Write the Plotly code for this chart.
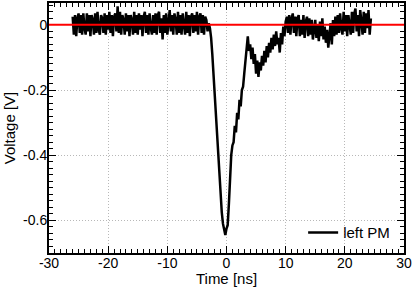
import plotly.graph_objects as go

# ---- data ----
t_start = -26.0   # ns, first sample
t_step = 0.2      # ns, sampling interval

baseline_pre_1 = [0.025, -0.030, 0.030, -0.035, 0.020, 0.035, -0.025, 0.030, -0.030, 0.035,
                  -0.010, -0.030, 0.035, -0.020, 0.030, -0.035, 0.030, 0.015, -0.030, 0.035,
                  -0.025, 0.040, -0.015]
baseline_pre_2 = [-0.030, 0.030, 0.020, -0.025, 0.035, -0.030, 0.030, -0.015, 0.040, -0.025,
                  0.030, -0.035, 0.025, 0.035, -0.020, 0.057, -0.025, 0.040, -0.030, 0.030,
                  0.015, -0.030, 0.035]
baseline_pre_3 = [-0.020, 0.030, -0.035, 0.030, 0.015, -0.030, 0.040, -0.025, 0.030, -0.030,
                  0.035, -0.015, 0.030, -0.035, 0.025, 0.040, -0.025, 0.030, -0.030, 0.035,
                  -0.010, -0.030, 0.030]
baseline_pre_4 = [-0.025, 0.035, -0.030, 0.030, 0.040, -0.025, 0.020, -0.045, 0.030, -0.025,
                  0.035, -0.030, 0.025, 0.045, -0.020, 0.030, -0.030, 0.035, 0.015, -0.030,
                  0.040, -0.025, 0.030]
baseline_pre_5 = [-0.030, 0.035, -0.010, -0.030, 0.040, -0.025, 0.030, -0.035, 0.025, 0.035,
                  -0.025, 0.030, -0.020, 0.040, -0.030, 0.025, 0.035, -0.025, 0.030, -0.030,
                  0.025, 0.015, -0.020]

pulse = [0.005, -0.010, -0.040, -0.090, -0.150, -0.210, -0.280, -0.350, -0.420, -0.470,
         -0.520, -0.575, -0.610, -0.630, -0.645, -0.625, -0.615, -0.550, -0.460, -0.400,
         -0.370, -0.360, -0.310, -0.330, -0.270, -0.290, -0.230, -0.250, -0.200, -0.190,
         -0.150, -0.110, -0.080, -0.035, -0.080, -0.060, -0.105, -0.070, -0.120, -0.090,
         -0.150, -0.110, -0.160, -0.115, -0.140, -0.095, -0.125, -0.080, -0.115, -0.065,
         -0.100, -0.055, -0.085, -0.040, -0.075, -0.030, -0.065, -0.020, -0.060, -0.040,
         -0.085, -0.025, -0.060, -0.005, -0.035, 0.010]

baseline_post = [0.025, -0.025, 0.030, -0.030, 0.020, 0.035, -0.025, 0.025, -0.035, 0.020, 0.030,
                 -0.035, 0.015, -0.030, 0.030, -0.040, 0.010, 0.025, -0.035, 0.020, -0.030, 0.015,
                 -0.045, -0.005, 0.015, -0.040, 0.000, -0.050, 0.010, -0.035, 0.020, -0.045, -0.005,
                 -0.055, -0.015, -0.070, -0.035, 0.005, -0.060, 0.015, -0.035, 0.025, -0.030, 0.030,
                 -0.025, 0.035, -0.010, -0.030, 0.040, -0.020, 0.030, -0.035, 0.030, -0.010, -0.030,
                 0.040, -0.025, 0.035, 0.050, -0.020, 0.030, -0.035, 0.045, 0.010, -0.030, 0.040,
                 -0.025, 0.035, -0.010, 0.045, -0.030, 0.020]

voltage = (baseline_pre_1 + baseline_pre_2 + baseline_pre_3 + baseline_pre_4 +
           baseline_pre_5 + pulse + baseline_post)

baseline_level = 0.0
series_name = "left PM"

x_ticks = [-30, -20, -10, 0, 10, 20, 30]
x_tick_labels = ["-30", "-20", "-10", "0", "10", "20", "30"]
y_ticks = [-0.6, -0.4, -0.2, 0]
y_tick_labels = ["-0.6", "-0.4", "-0.2", "0"]

# ---- figure ----
FONT = "Liberation Sans, Arial, Helvetica, sans-serif"

fig = go.Figure()
fig.add_trace(go.Scatter(
    x0=t_start, dx=t_step, y=voltage, mode="lines", name=series_name,
    line=dict(color="black", width=2.5),
))
fig.add_hline(y=baseline_level, line=dict(color="#ff0000", width=2), layer="above")

axis_common = dict(
    showline=True, linecolor="black", linewidth=2, mirror="ticks",
    ticks="inside", ticklen=7, tickwidth=1, tickcolor="black",
    showgrid=True, gridcolor="#b8b8b8", gridwidth=1, griddash="1px,2px",
    zeroline=False, automargin=False,
    tickfont=dict(family=FONT, size=14, color="black"),
)

fig.update_xaxes(
    **axis_common, range=[-30, 30], tickmode="array", tickvals=x_ticks, ticktext=x_tick_labels,
    ticklabelstandoff=-4,
    minor=dict(tickmode="linear", tick0=0, dtick=1, ticks="inside", ticklen=4,
               tickcolor="black", showgrid=False),
    title=dict(text="Time [ns]", font=dict(family=FONT, size=15, color="black"), standoff=0),
)
fig.update_yaxes(
    **axis_common, range=[-0.7, 0.067], tickmode="array", tickvals=y_ticks, ticktext=y_tick_labels,
    ticklabelstandoff=-3,
    minor=dict(tickmode="linear", tick0=0, dtick=0.02, ticks="inside", ticklen=4,
               tickcolor="black", showgrid=False),
    title=dict(text="Voltage [V]", font=dict(family=FONT, size=15, color="black"), standoff=4),
)

fig.update_layout(
    width=415, height=287,
    margin=dict(l=49, r=11, t=3, b=34),
    paper_bgcolor="white", plot_bgcolor="white",
    font=dict(family=FONT, size=14, color="black"),
    showlegend=True,
    legend=dict(x=0.975, y=0.015, xanchor="right", yanchor="bottom",
                bgcolor="rgba(0,0,0,0)", font=dict(family=FONT, size=15, color="black"),
                itemwidth=30, tracegroupgap=0),
)

fig.write_html(
    "out.html",
    config={"displayModeBar": False},
    post_script="document.body.style.margin='0';document.body.style.padding='0';",
)
